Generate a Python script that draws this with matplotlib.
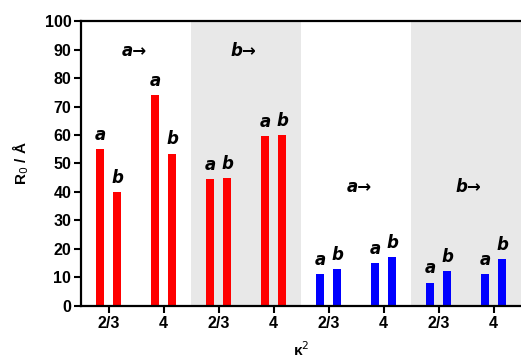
import matplotlib.pyplot as plt
import numpy as np

plt.rcParams['font.family'] = ['Liberation Sans', 'DejaVu Sans']

# group positions along x (ticks) and their labels
tick_labels = ['2/3', '4', '2/3', '4', '2/3', '4', '2/3', '4']
vals_a = [55, 74, 44.5, 59.5, 11.1, 15.2, 8.2, 11.1]
vals_b = [40, 53.5, 45, 60, 13, 17.3, 12.3, 16.6]
colors = ['#ff0000'] * 4 + ['#0000ff'] * 4

# section headings
section_text = ['a→', 'b→', 'a→', 'b→']
section_x = [0.97, 2.95, 5.06, 7.04]
section_y = [89.5, 89.5, 41.6, 41.6]

fig = plt.figure(figsize=(5.21, 3.58), dpi=100)
ax = fig.add_axes([0.1555, 0.1453, 0.8445, 0.796])

x = np.arange(len(tick_labels)) + 0.5
off = 0.155
w = 0.15

# grey shaded sections
ax.axvspan(2, 4, color='#e8e8e8', zorder=0, lw=0)
ax.axvspan(6, 8, color='#e8e8e8', zorder=0, lw=0)

ax.bar(x - off, vals_a, width=w, color=colors, zorder=2)
ax.bar(x + off, vals_b, width=w, color=colors, zorder=2)

for xi, va, vb in zip(x, vals_a, vals_b):
    ax.text(xi - off, va + 1.8, 'a', ha='center', va='bottom', fontsize=12,
            fontweight='bold', style='italic', family=['DejaVu Sans'])
    ax.text(xi + off, vb + 1.8, 'b', ha='center', va='bottom', fontsize=12,
            fontweight='bold', style='italic', family=['DejaVu Sans'])

for t, sx, sy in zip(section_text, section_x, section_y):
    ax.text(sx, sy, t, ha='center', va='center', fontsize=12,
            fontweight='bold', style='italic', family=['DejaVu Sans'])

ax.set_xlim(0, 8)
ax.set_ylim(0, 100)
ax.set_xticks(x)
ax.set_xticklabels(tick_labels)
ax.set_yticks(np.arange(0, 101, 10))

for lab in ax.get_xticklabels() + ax.get_yticklabels():
    lab.set_fontweight('bold')
    lab.set_fontsize(11.5)

ax.tick_params(direction='out', length=5, width=1.5, pad=2)
ax.spines['right'].set_visible(False)
for s in ['left', 'bottom', 'top']:
    ax.spines[s].set_linewidth(1.6)
    ax.spines[s].set_zorder(5)

ax.set_ylabel('R$_0$ / Å', fontsize=11, fontweight='bold', labelpad=10)
ax.set_xlabel('κ$^2$', fontsize=11, fontweight='bold', labelpad=7)

fig.savefig('out.png', dpi=100)
